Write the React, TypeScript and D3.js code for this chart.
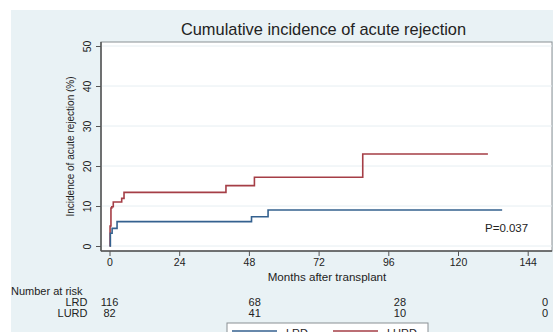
import React, { useEffect, useRef } from 'react';
import * as d3 from 'd3';

// follow-up times (months) and cumulative incidence (%)
const lrdMonths = [0, 0.3, 0.9, 2.6, 48.9, 54.6, 135.2];
const lrdIncidence = [0, 3.2, 4.4, 6.1, 7.3, 9.0, 9.0];
const lurdMonths = [0, 0.2, 0.5, 0.8, 1.3, 4.2, 5.0, 40.1, 49.9, 87.2, 130.3];
const lurdIncidence = [0, 5.0, 9.5, 9.8, 11.0, 11.9, 13.4, 15.1, 17.2, 23.0, 23.0];

const xTicks = [0, 24, 48, 72, 96, 120, 144];
const yTicks = [0, 10, 20, 30, 40, 50];

const riskTimes = [0, 50, 100, 150];
const lrdAtRisk = [116, 68, 28, 0];
const lurdAtRisk = [82, 41, 10, 0];

const groups = ['LRD', 'LURD'];
const pValueLabel = 'P=0.037';

const App = () => {
    const svgRef = useRef<SVGSVGElement>(null);

    useEffect(() => {
        const svg = d3.select(svgRef.current);
        svg.selectAll('*').remove();

        const width = 553;
        const height = 332;
        const font = '"Liberation Sans", Arial, Helvetica, sans-serif';
        const plotLeft = 101;
        const plotRight = 552;
        const plotTop = 42;
        const plotBottom = 251;
        const blue = '#34618f';
        const red = '#a53e46';
        const ink = '#222';

        const x = d3.scaleLinear([0, 144], [109.5, 527.7]);
        const y = d3.scaleLinear([0, 50], [246, 46]);

        svg.attr('width', width).attr('height', height)
            .style('font-family', font);

        // outer light-blue graph region
        svg.append('rect')
            .attr('x', 11).attr('y', 10)
            .attr('width', width - 11).attr('height', height - 10)
            .attr('fill', '#e9f2f5');

        // plot region
        svg.append('rect')
            .attr('x', plotLeft).attr('y', plotTop)
            .attr('width', plotRight - plotLeft).attr('height', plotBottom - plotTop)
            .attr('fill', '#fff')
            .attr('stroke', '#8a8f94').attr('stroke-width', 1);

        // gridlines
        svg.append('g')
            .selectAll('line')
            .data(yTicks)
            .join('line')
            .attr('x1', plotLeft).attr('x2', plotRight)
            .attr('y1', d => y(d)).attr('y2', d => y(d))
            .attr('stroke', '#e6eef2').attr('stroke-width', 1);

        // title
        svg.append('text')
            .attr('x', 323.5).attr('y', 35)
            .attr('text-anchor', 'middle')
            .attr('font-size', 16.4)
            .attr('fill', ink)
            .text('Cumulative incidence of acute rejection');

        // y axis
        const yAxis = svg.append('g')
            .attr('transform', `translate(${plotLeft},0)`)
            .call(d3.axisLeft(y).tickValues(yTicks).tickSize(5).tickPadding(4).tickSizeOuter(0));
        yAxis.select('.domain').remove();
        yAxis.selectAll('.tick line').attr('stroke', '#555');
        yAxis.selectAll('.tick text')
            .attr('transform', 'rotate(-90)')
            .attr('x', 0).attr('y', -10.5)
            .attr('dy', 0)
            .attr('text-anchor', 'middle')
            .attr('font-size', 10.5)
            .attr('font-family', font)
            .attr('fill', ink);
        svg.append('line')
            .attr('x1', plotLeft).attr('x2', plotLeft)
            .attr('y1', plotTop).attr('y2', plotBottom)
            .attr('stroke', '#555').attr('stroke-width', 1.5);

        svg.append('text')
            .attr('transform', `translate(74,${(plotTop + plotBottom) / 2}) rotate(-90)`)
            .attr('text-anchor', 'middle')
            .attr('font-size', 10)
            .attr('fill', ink)
            .text('Incidence of acute rejection (%)');

        // x axis
        const xAxis = svg.append('g')
            .attr('transform', `translate(0,${plotBottom})`)
            .call(d3.axisBottom(x).tickValues(xTicks).tickSize(5).tickPadding(3).tickSizeOuter(0));
        xAxis.select('.domain').remove();
        xAxis.selectAll('.tick line').attr('stroke', '#555');
        xAxis.selectAll('.tick text')
            .attr('font-size', 10.5)
            .attr('font-family', font)
            .attr('fill', ink);
        svg.append('line')
            .attr('x1', plotLeft).attr('x2', plotRight)
            .attr('y1', plotBottom).attr('y2', plotBottom)
            .attr('stroke', '#555').attr('stroke-width', 1.5);

        svg.append('text')
            .attr('x', 327).attr('y', 281)
            .attr('text-anchor', 'middle')
            .attr('font-size', 11.6)
            .attr('fill', ink)
            .text('Months after transplant');

        // step curves
        const line = d3.line<[number, number]>()
            .x(d => x(d[0]))
            .y(d => y(d[1]))
            .curve(d3.curveStepAfter);

        const series = [
            { pts: lurdMonths.map((m, i) => [m, lurdIncidence[i]] as [number, number]), color: red },
            { pts: lrdMonths.map((m, i) => [m, lrdIncidence[i]] as [number, number]), color: blue },
        ];
        svg.append('g')
            .selectAll('path')
            .data(series)
            .join('path')
            .attr('fill', 'none')
            .attr('stroke', d => d.color)
            .attr('stroke-width', 1.6)
            .attr('d', d => line(d.pts));

        svg.append('text')
            .attr('x', 485).attr('y', 232)
            .attr('font-size', 11.5)
            .attr('fill', ink)
            .text(pValueLabel);

        // number at risk table
        svg.append('text')
            .attr('x', 11).attr('y', 295)
            .attr('font-size', 11)
            .attr('fill', ink)
            .text('Number at risk');

        const riskRows = [lrdAtRisk, lurdAtRisk];
        riskRows.forEach((row, r) => {
            const yy = 306 + r * 11;
            svg.append('text')
                .attr('x', 87.5).attr('y', yy)
                .attr('text-anchor', 'end')
                .attr('font-size', 11)
                .attr('fill', ink)
                .text(groups[r]);
            svg.append('g')
                .selectAll('text')
                .data(row)
                .join('text')
                .attr('x', (d, i) => x(riskTimes[i]))
                .attr('y', yy)
                .attr('text-anchor', 'middle')
                .attr('font-size', 11)
                .attr('fill', ink)
                .text(d => d);
        });

        // legend (runs off the bottom edge, as in the source)
        const legend = svg.append('g');
        legend.append('rect')
            .attr('x', 227).attr('y', 323)
            .attr('width', 201).attr('height', 30)
            .attr('fill', '#fff')
            .attr('stroke', '#8a8f94');
        const legendColors = [blue, red];
        groups.forEach((g, i) => {
            const lx = 232 + i * 101;
            legend.append('line')
                .attr('x1', lx).attr('x2', lx + 45)
                .attr('y1', 331).attr('y2', 331)
                .attr('stroke', legendColors[i]).attr('stroke-width', 1.6);
            legend.append('text')
                .attr('x', lx + 54).attr('y', 337)
                .attr('font-size', 11)
                .attr('fill', ink)
                .text(g);
        });
    }, []);

    return <svg ref={svgRef} style={{ position: 'absolute', left: 0, top: 0 }} />;
};

export default App;
